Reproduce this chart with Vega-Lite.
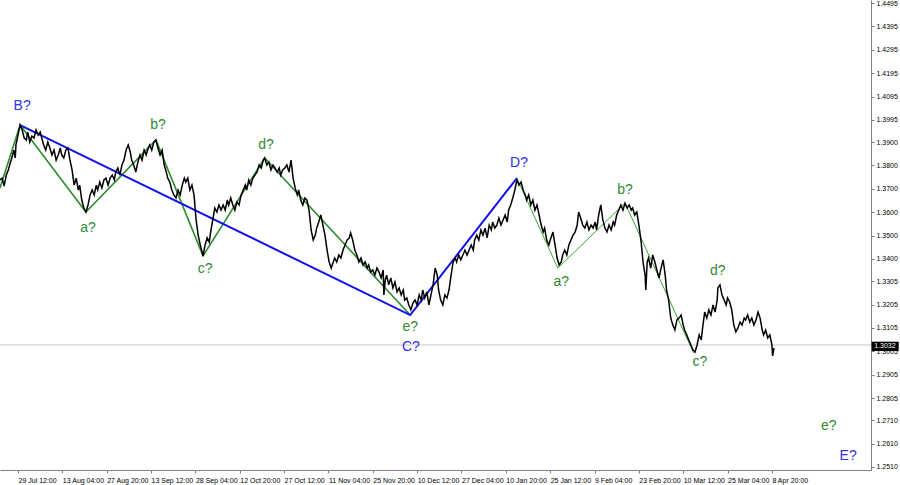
{
  "$schema": "https://vega.github.io/schema/vega-lite/v6.json",
  "width": 871,
  "height": 470,
  "autosize": {"type": "none"},
  "padding": {"left": 0, "top": 0, "right": 29, "bottom": 15},
  "background": "white",
  "config": {
    "view": {"stroke": null},
    "axis": {
      "grid": false,
      "title": null,
      "labelFont": "Liberation Sans",
      "labelFontSize": 7,
      "labelColor": "#000000",
      "domainColor": "#808080",
      "tickColor": "#808080",
      "tickSize": 3,
      "labelOverlap": false,
      "labelFlush": false
    }
  },
  "datasets": {
    "price": [
      {"b":0,"p":1.3738},{"b":3,"p":1.3746},{"b":6,"p":1.3712},{"b":9,"p":1.3759},{"b":12,"p":1.3781},{"b":14,"p":1.3802},{"b":17,"p":1.3832},{"b":20,"p":1.3866},{"b":22,"p":1.3832},{"b":23,"p":1.3888},{"b":26,"p":1.3930},{"b":29,"p":1.3973},
      {"b":32,"p":1.3952},{"b":35,"p":1.3917},{"b":38,"p":1.3909},{"b":40,"p":1.3943},{"b":43,"p":1.3900},{"b":46,"p":1.3926},{"b":49,"p":1.3917},{"b":52,"p":1.3952},{"b":55,"p":1.3930},{"b":58,"p":1.3943},{"b":61,"p":1.3909},{"b":63,"p":1.3888},{"b":66,"p":1.3866},{"b":69,"p":1.3900},{"b":72,"p":1.3875},{"b":75,"p":1.3845},{"b":78,"p":1.3866},{"b":81,"p":1.3823},{"b":84,"p":1.3845},{"b":87,"p":1.3875},{"b":89,"p":1.3845},{"b":92,"p":1.3832},{"b":95,"p":1.3866},{"b":98,"p":1.3875},{"b":101,"p":1.3823},{"b":104,"p":1.3781},{"b":107,"p":1.3716},{"b":110,"p":1.3746},{"b":113,"p":1.3695},{"b":115,"p":1.3716},{"b":118,"p":1.3652},{"b":121,"p":1.3618},{"b":124,"p":1.3601},
      {"b":127,"p":1.3631},{"b":130,"p":1.3674},{"b":133,"p":1.3695},{"b":136,"p":1.3674},{"b":139,"p":1.3716},{"b":141,"p":1.3695},{"b":144,"p":1.3729},{"b":147,"p":1.3704},{"b":150,"p":1.3738},{"b":153,"p":1.3746},{"b":156,"p":1.3716},{"b":159,"p":1.3746},{"b":162,"p":1.3759},{"b":165,"p":1.3738},{"b":167,"p":1.3772},{"b":170,"p":1.3789},{"b":173,"p":1.3759},{"b":176,"p":1.3802},{"b":179,"p":1.3823},{"b":182,"p":1.3866},{"b":185,"p":1.3888},{"b":188,"p":1.3858},{"b":190,"p":1.3823},{"b":193,"p":1.3802},{"b":196,"p":1.3772},{"b":199,"p":1.3815},{"b":202,"p":1.3845},{"b":205,"p":1.3823},{"b":208,"p":1.3866},{"b":211,"p":1.3845},{"b":214,"p":1.3875},{"b":216,"p":1.3888},{"b":219,"p":1.3866},{"b":222,"p":1.3900},{"b":225,"p":1.3909},
      {"b":228,"p":1.3875},{"b":231,"p":1.3845},{"b":234,"p":1.3866},{"b":237,"p":1.3802},{"b":240,"p":1.3772},{"b":242,"p":1.3746},{"b":245,"p":1.3729},{"b":248,"p":1.3695},{"b":251,"p":1.3674},{"b":254,"p":1.3661},{"b":257,"p":1.3695},{"b":260,"p":1.3674},{"b":263,"p":1.3716},{"b":266,"p":1.3746},{"b":268,"p":1.3729},{"b":271,"p":1.3746},{"b":274,"p":1.3695},{"b":277,"p":1.3716},{"b":280,"p":1.3674},{"b":283,"p":1.3567},{"b":286,"p":1.3502},{"b":289,"p":1.3460},{"b":291,"p":1.3438},{"b":293,"p":1.3413},
      {"b":296,"p":1.3460},{"b":299,"p":1.3490},{"b":302,"p":1.3472},{"b":304,"p":1.3515},{"b":307,"p":1.3567},{"b":310,"p":1.3618},{"b":313,"p":1.3601},{"b":316,"p":1.3631},{"b":319,"p":1.3609},{"b":322,"p":1.3631},{"b":325,"p":1.3609},{"b":328,"p":1.3652},{"b":330,"p":1.3631},{"b":333,"p":1.3661},{"b":336,"p":1.3631},{"b":339,"p":1.3609},{"b":342,"p":1.3644},{"b":345,"p":1.3631},{"b":348,"p":1.3674},{"b":351,"p":1.3695},{"b":354,"p":1.3716},{"b":356,"p":1.3695},{"b":359,"p":1.3738},{"b":362,"p":1.3716},{"b":365,"p":1.3746},{"b":368,"p":1.3759},{"b":371,"p":1.3772},{"b":374,"p":1.3802},{"b":377,"p":1.3789},{"b":380,"p":1.3823},{"b":382,"p":1.3832},
      {"b":385,"p":1.3802},{"b":388,"p":1.3815},{"b":391,"p":1.3781},{"b":394,"p":1.3802},{"b":397,"p":1.3789},{"b":400,"p":1.3772},{"b":403,"p":1.3789},{"b":405,"p":1.3759},{"b":408,"p":1.3781},{"b":411,"p":1.3789},{"b":414,"p":1.3802},{"b":417,"p":1.3772},{"b":420,"p":1.3823},{"b":423,"p":1.3746},{"b":426,"p":1.3704},{"b":429,"p":1.3674},{"b":431,"p":1.3695},{"b":434,"p":1.3652},{"b":437,"p":1.3631},{"b":440,"p":1.3661},{"b":443,"p":1.3652},{"b":446,"p":1.3609},{"b":449,"p":1.3524},{"b":452,"p":1.3481},{"b":455,"p":1.3502},{"b":457,"p":1.3532},{"b":460,"p":1.3558},{"b":463,"p":1.3588},{"b":466,"p":1.3545},{"b":469,"p":1.3502},{"b":472,"p":1.3438},{"b":475,"p":1.3387},{"b":478,"p":1.3361},{"b":481,"p":1.3387},{"b":483,"p":1.3404},{"b":486,"p":1.3387},{"b":489,"p":1.3417},{"b":492,"p":1.3404},{"b":495,"p":1.3438},{"b":498,"p":1.3460},{"b":501,"p":1.3481},{"b":504,"p":1.3490},{"b":506,"p":1.3511},{"b":509,"p":1.3481},{"b":512,"p":1.3438},{"b":515,"p":1.3417},{"b":518,"p":1.3387},{"b":521,"p":1.3404},{"b":524,"p":1.3374},{"b":527,"p":1.3387},{"b":530,"p":1.3361},{"b":532,"p":1.3374},{"b":535,"p":1.3344},{"b":538,"p":1.3353},{"b":541,"p":1.3331},{"b":544,"p":1.3361},{"b":547,"p":1.3344},{"b":550,"p":1.3319},{"b":553,"p":1.3353},{"b":554,"p":1.3246},{"b":556,"p":1.3310},{"b":558,"p":1.3331},{"b":561,"p":1.3289},{"b":564,"p":1.3319},{"b":567,"p":1.3276},{"b":570,"p":1.3301},{"b":573,"p":1.3259},{"b":576,"p":1.3276},{"b":579,"p":1.3246},{"b":582,"p":1.3267},{"b":584,"p":1.3224},{"b":587,"p":1.3233},{"b":590,"p":1.3203},{"b":593,"p":1.3182},{"b":596,"p":1.3212},
      {"b":599,"p":1.3224},{"b":602,"p":1.3203},{"b":605,"p":1.3246},{"b":608,"p":1.3224},{"b":610,"p":1.3267},{"b":613,"p":1.3233},{"b":616,"p":1.3259},{"b":619,"p":1.3203},{"b":622,"p":1.3246},{"b":625,"p":1.3289},{"b":628,"p":1.3361},{"b":631,"p":1.3331},{"b":633,"p":1.3267},{"b":636,"p":1.3224},{"b":639,"p":1.3203},{"b":642,"p":1.3246},{"b":645,"p":1.3233},{"b":648,"p":1.3267},{"b":651,"p":1.3331},{"b":654,"p":1.3387},{"b":657,"p":1.3404},{"b":659,"p":1.3387},{"b":662,"p":1.3417},{"b":665,"p":1.3396},{"b":668,"p":1.3417},{"b":671,"p":1.3438},{"b":674,"p":1.3417},{"b":677,"p":1.3438},{"b":680,"p":1.3460},{"b":683,"p":1.3438},{"b":685,"p":1.3481},{"b":688,"p":1.3502},{"b":691,"p":1.3481},{"b":694,"p":1.3524},{"b":697,"p":1.3502},{"b":700,"p":1.3532},{"b":703,"p":1.3490},{"b":706,"p":1.3545},{"b":709,"p":1.3524},{"b":711,"p":1.3558},{"b":714,"p":1.3532},{"b":717,"p":1.3545},{"b":720,"p":1.3575},{"b":723,"p":1.3545},{"b":726,"p":1.3567},{"b":729,"p":1.3588},{"b":732,"p":1.3558},{"b":734,"p":1.3609},{"b":737,"p":1.3631},{"b":740,"p":1.3661},{"b":743,"p":1.3695},{"b":746,"p":1.3738},
      {"b":749,"p":1.3716},{"b":752,"p":1.3729},{"b":755,"p":1.3695},{"b":758,"p":1.3674},{"b":760,"p":1.3652},{"b":763,"p":1.3674},{"b":766,"p":1.3631},{"b":769,"p":1.3652},{"b":772,"p":1.3609},{"b":775,"p":1.3631},{"b":778,"p":1.3588},{"b":781,"p":1.3545},{"b":784,"p":1.3515},{"b":786,"p":1.3532},{"b":789,"p":1.3481},{"b":792,"p":1.3460},{"b":795,"p":1.3490},{"b":798,"p":1.3515},{"b":801,"p":1.3460},{"b":804,"p":1.3404},{"b":807,"p":1.3374},{"b":810,"p":1.3387},
      {"b":812,"p":1.3417},{"b":815,"p":1.3438},{"b":818,"p":1.3417},{"b":821,"p":1.3460},{"b":824,"p":1.3481},{"b":827,"p":1.3502},{"b":830,"p":1.3515},{"b":833,"p":1.3545},{"b":835,"p":1.3601},{"b":838,"p":1.3575},{"b":841,"p":1.3545},{"b":844,"p":1.3532},{"b":847,"p":1.3558},{"b":850,"p":1.3524},{"b":853,"p":1.3545},{"b":856,"p":1.3532},{"b":859,"p":1.3558},{"b":861,"p":1.3524},{"b":864,"p":1.3588},{"b":867,"p":1.3631},{"b":870,"p":1.3567},{"b":873,"p":1.3532},{"b":876,"p":1.3515},{"b":879,"p":1.3545},{"b":882,"p":1.3524},{"b":885,"p":1.3558},{"b":887,"p":1.3545},{"b":890,"p":1.3588},{"b":893,"p":1.3609},{"b":896,"p":1.3631},{"b":899,"p":1.3609},{"b":902,"p":1.3639},{"b":905,"p":1.3618},
      {"b":908,"p":1.3631},{"b":911,"p":1.3609},{"b":913,"p":1.3618},{"b":916,"p":1.3588},{"b":919,"p":1.3601},{"b":922,"p":1.3545},{"b":925,"p":1.3481},{"b":928,"p":1.3387},{"b":931,"p":1.3331},{"b":932,"p":1.3267},{"b":934,"p":1.3387},{"b":936,"p":1.3404},{"b":939,"p":1.3361},{"b":942,"p":1.3417},{"b":945,"p":1.3387},{"b":948,"p":1.3353},{"b":951,"p":1.3319},{"b":954,"p":1.3361},{"b":957,"p":1.3396},{"b":960,"p":1.3331},{"b":962,"p":1.3267},{"b":965,"p":1.3224},{"b":968,"p":1.3147},{"b":971,"p":1.3117},{"b":974,"p":1.3096},{"b":977,"p":1.3139},{"b":980,"p":1.3147},{"b":983,"p":1.3160},{"b":986,"p":1.3117},{"b":988,"p":1.3096},{"b":991,"p":1.3075},{"b":994,"p":1.3053},{"b":997,"p":1.3032},{"b":1000,"p":1.3011},{"b":1003,"p":1.3002},
      {"b":1006,"p":1.3032},{"b":1009,"p":1.3075},{"b":1012,"p":1.3053},{"b":1014,"p":1.3105},{"b":1017,"p":1.3173},{"b":1020,"p":1.3147},{"b":1023,"p":1.3182},{"b":1026,"p":1.3160},{"b":1029,"p":1.3203},{"b":1032,"p":1.3173},{"b":1035,"p":1.3224},{"b":1036,"p":1.3276},{"b":1039,"p":1.3289},
      {"b":1042,"p":1.3246},{"b":1045,"p":1.3224},{"b":1048,"p":1.3203},{"b":1050,"p":1.3233},{"b":1053,"p":1.3216},{"b":1056,"p":1.3182},{"b":1059,"p":1.3117},{"b":1062,"p":1.3088},{"b":1065,"p":1.3105},{"b":1068,"p":1.3130},{"b":1071,"p":1.3117},{"b":1074,"p":1.3147},{"b":1076,"p":1.3139},{"b":1079,"p":1.3160},{"b":1082,"p":1.3130},{"b":1085,"p":1.3147},{"b":1088,"p":1.3117},{"b":1091,"p":1.3139},{"b":1094,"p":1.3173},{"b":1097,"p":1.3147},{"b":1100,"p":1.3096},{"b":1102,"p":1.3075},{"b":1105,"p":1.3096},{"b":1108,"p":1.3062},{"b":1111,"p":1.3075},{"b":1114,"p":1.3032},{"b":1115,"p":1.2985},{"b":1117,"p":1.3019}
    ],
    "minorWave1": [
      {"b":0,"p":1.3704},{"b":29,"p":1.3973},{"b":124,"p":1.3601},{"b":225,"p":1.3909},{"b":293,"p":1.3413},{"b":382,"p":1.3832},{"b":592,"p":1.3160}
    ],
    "minorWave2": [
      {"b":746,"p":1.3746},{"b":805,"p":1.3361},{"b":902,"p":1.3639},{"b":1001,"p":1.2998}
    ],
    "majorWave": [
      {"b":29,"p":1.3973},{"b":592,"p":1.3160},{"b":746,"p":1.3746}
    ],
    "labels": [
      {"b":32,"p":1.4054,"t":"B?","deg":"major"},
      {"b":127,"p":1.3532,"t":"a?","deg":"minor"},
      {"b":228,"p":1.3973,"t":"b?","deg":"minor"},
      {"b":296,"p":1.3357,"t":"c?","deg":"minor"},
      {"b":384,"p":1.3888,"t":"d?","deg":"minor"},
      {"b":592,"p":1.3109,"t":"e?","deg":"minor"},
      {"b":593,"p":1.3023,"t":"C?","deg":"major"},
      {"b":749,"p":1.3810,"t":"D?","deg":"major"},
      {"b":810,"p":1.3301,"t":"a?","deg":"minor"},
      {"b":902,"p":1.3695,"t":"b?","deg":"minor"},
      {"b":1010,"p":1.2959,"t":"c?","deg":"minor"},
      {"b":1036,"p":1.3348,"t":"d?","deg":"minor"},
      {"b":1196,"p":1.2685,"t":"e?","deg":"minor"},
      {"b":1224,"p":1.2557,"t":"E?","deg":"major"}
    ]
  },
  "layer": [
    {
      "data": {"values": [{"p": 1.3032}]},
      "mark": {"type": "rule", "color": "#c8c8c8", "strokeWidth": 1},
      "encoding": {
        "y": {"field": "p", "type": "quantitative", "scale": {"domain": [1.2497, 1.4508], "nice": false, "zero": false},
          "axis": {"orient": "right", "values": [1.4495,1.4395,1.4295,1.4195,1.4095,1.3995,1.3900,1.3800,1.3700,1.3600,1.3500,1.3400,1.3305,1.3205,1.3105,1.3005,1.2905,1.2805,1.2710,1.2610,1.2510], "tickCount": 60, "format": ".4f", "labelPadding": 2, "labelOverlap": false, "labelBound": false, "labelFlush": false}}
      }
    },
    {
      "data": {"name": "minorWave1"},
      "mark": {"type": "line", "color": "#2e8b2e", "strokeWidth": 1.6},
      "encoding": {
        "x": {"field": "b", "type": "quantitative", "scale": {"domain": [0, 1257], "nice": false, "zero": false},
          "axis": {"orient": "bottom", "values": [26,90,154,218,282,346,410,474,538,602,666,730,794,858,922,986,1050,1114], "tickCount": 60, "labelAlign": "left", "labelPadding": 3, "labelOverlap": false, "labelFlush": false,
            "labelExpr": "['29 Jul 12:00','13 Aug 04:00','27 Aug 20:00','13 Sep 12:00','28 Sep 04:00','12 Oct 20:00','27 Oct 12:00','11 Nov 04:00','25 Nov 20:00','10 Dec 12:00','27 Dec 04:00','10 Jan 20:00','25 Jan 12:00','9 Feb 04:00','23 Feb 20:00','10 Mar 12:00','25 Mar 04:00','8 Apr 20:00'][round((datum.value-26)/64)]"}},
        "y": {"field": "p", "type": "quantitative", "scale": {"domain": [1.2497, 1.4508], "nice": false, "zero": false}}
      }
    },
    {
      "data": {"name": "minorWave2"},
      "mark": {"type": "line", "color": "#3aa33a", "strokeWidth": 1},
      "encoding": {
        "x": {"field": "b", "type": "quantitative", "scale": {"domain": [0, 1257], "nice": false, "zero": false}},
        "y": {"field": "p", "type": "quantitative", "scale": {"domain": [1.2497, 1.4508], "nice": false, "zero": false}}
      }
    },
    {
      "data": {"name": "majorWave"},
      "mark": {"type": "line", "color": "#1010ee", "strokeWidth": 2},
      "encoding": {
        "x": {"field": "b", "type": "quantitative", "scale": {"domain": [0, 1257], "nice": false, "zero": false}},
        "y": {"field": "p", "type": "quantitative", "scale": {"domain": [1.2497, 1.4508], "nice": false, "zero": false}}
      }
    },
    {
      "data": {"name": "price"},
      "mark": {"type": "line", "color": "#000000", "strokeWidth": 1.5},
      "encoding": {
        "x": {"field": "b", "type": "quantitative", "scale": {"domain": [0, 1257], "nice": false, "zero": false}},
        "y": {"field": "p", "type": "quantitative", "scale": {"domain": [1.2497, 1.4508], "nice": false, "zero": false}}
      }
    },
    {
      "data": {"values": [{"b1": 1258, "b2": 1297, "p1": 1.3006, "p2": 1.3046}]},
      "mark": {"type": "rect", "color": "#000000"},
      "encoding": {
        "x": {"field": "b1", "type": "quantitative", "scale": {"domain": [0, 1257], "nice": false, "zero": false}},
        "x2": {"field": "b2"},
        "y": {"field": "p1", "type": "quantitative", "scale": {"domain": [1.2497, 1.4508], "nice": false, "zero": false}},
        "y2": {"field": "p2"}
      }
    },
    {
      "data": {"values": [{"b": 1277, "p": 1.3026, "t": "1.3032"}]},
      "mark": {"type": "text", "color": "#ffffff", "font": "Liberation Sans", "fontSize": 7, "align": "center", "baseline": "middle"},
      "encoding": {
        "x": {"field": "b", "type": "quantitative", "scale": {"domain": [0, 1257], "nice": false, "zero": false}},
        "y": {"field": "p", "type": "quantitative", "scale": {"domain": [1.2497, 1.4508], "nice": false, "zero": false}},
        "text": {"field": "t"}
      }
    },
    {
      "data": {"name": "labels"},
      "mark": {"type": "text", "font": "Liberation Sans", "fontSize": 14, "align": "center", "baseline": "middle"},
      "encoding": {
        "x": {"field": "b", "type": "quantitative", "scale": {"domain": [0, 1257], "nice": false, "zero": false}},
        "y": {"field": "p", "type": "quantitative", "scale": {"domain": [1.2497, 1.4508], "nice": false, "zero": false}},
        "text": {"field": "t"},
        "color": {"field": "deg", "type": "nominal", "scale": {"domain": ["major", "minor"], "range": ["#3030f0", "#2e8b2e"]}, "legend": null}
      }
    }
  ]
}
